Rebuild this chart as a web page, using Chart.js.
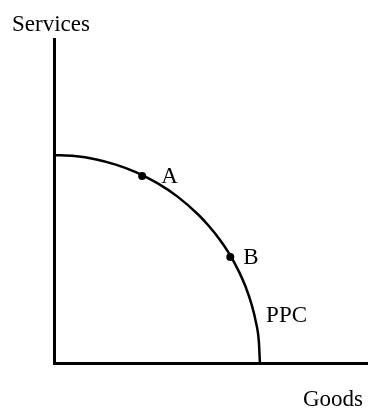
<!DOCTYPE html>
<html lang="en">
<head>
  <meta charset="UTF-8">
  <title>PPC</title>
  <style>
    body { margin: 0; background: #fff; }
  </style>
</head>
<body>
  <canvas id="graphic" width="371" height="408"></canvas>

  <script src="https://cdn.jsdelivr.net/npm/chart.js"></script>

  <script>
    // curve (goods, services), radius ~10 units
    const curveGoods    = [0, 1, 2, 3, 4, 5, 6, 7, 7.5, 8, 8.5, 9, 9.3, 9.6, 9.8, 9.95, 10];
    const curveServices = [10, 9.95, 9.8, 9.54, 9.17, 8.66, 8, 7.14, 6.61, 6, 5.27, 4.36, 3.68, 2.8, 1.99, 1.0, 0];

    // marked points A and B
    const pointLabels   = ['A', 'B'];
    const pointGoods    = [4.28, 8.56];
    const pointServices = [8.99, 5.10];

    const xLabel = 'Goods';
    const yLabel = 'Services';
    const curveLabel = 'PPC';

    const FONT = '23px "Liberation Serif", "Times New Roman", serif';

    // texts: axis names, point letters, curve name
    const textPlugin = {
      id: 'texts',
      afterDatasetsDraw(chart) {
        const ctx = chart.ctx;
        const xs = chart.scales.x;
        const ys = chart.scales.y;
        ctx.save();
        ctx.font = FONT;
        ctx.fillStyle = '#000';
        ctx.textBaseline = 'alphabetic';
        ctx.textAlign = 'left';

        ctx.fillText(yLabel, 12, 31);
        ctx.fillText(xLabel, 303, 406);

        const offsets = [[19, 7], [13, 7]];
        pointLabels.forEach((lbl, i) => {
          const px = xs.getPixelForValue(pointGoods[i]);
          const py = ys.getPixelForValue(pointServices[i]);
          ctx.fillText(lbl, px + offsets[i][0], py + offsets[i][1]);
        });

        ctx.fillText(curveLabel, xs.getPixelForValue(10.3), ys.getPixelForValue(1.97));
        ctx.restore();
      }
    };

    const lienzo = document.getElementById('graphic');
    const grafico = new Chart(lienzo, {
      type: 'line',
      data: {
        datasets: [
          {
            label: curveLabel,
            data: curveGoods.map((g, i) => ({ x: g, y: curveServices[i] })),
            borderColor: '#000',
            borderWidth: 2.5,
            pointRadius: 0,
            cubicInterpolationMode: 'monotone',
            fill: false
          },
          {
            label: 'points',
            data: pointGoods.map((g, i) => ({ x: g, y: pointServices[i] })),
            showLine: false,
            pointRadius: 4,
            pointBackgroundColor: '#000',
            pointBorderColor: '#000',
            pointBorderWidth: 0
          }
        ]
      },
      options: {
        responsive: false,
        animation: false,
        layout: {
          padding: { left: 54, top: 39, right: 1, bottom: 45 }
        },
        plugins: {
          legend: { display: false },
          tooltip: { enabled: false }
        },
        scales: {
          x: {
            type: 'linear',
            min: 0,
            max: 15.2,
            ticks: { display: false },
            grid: { display: false, drawTicks: false },
            border: { display: true, color: '#000', width: 3 }
          },
          y: {
            type: 'linear',
            min: 0,
            max: 15.58,
            ticks: { display: false },
            grid: { display: false, drawTicks: false },
            border: { display: true, color: '#000', width: 3 }
          }
        }
      },
      plugins: [textPlugin]
    });
  </script>
</body>
</html>
